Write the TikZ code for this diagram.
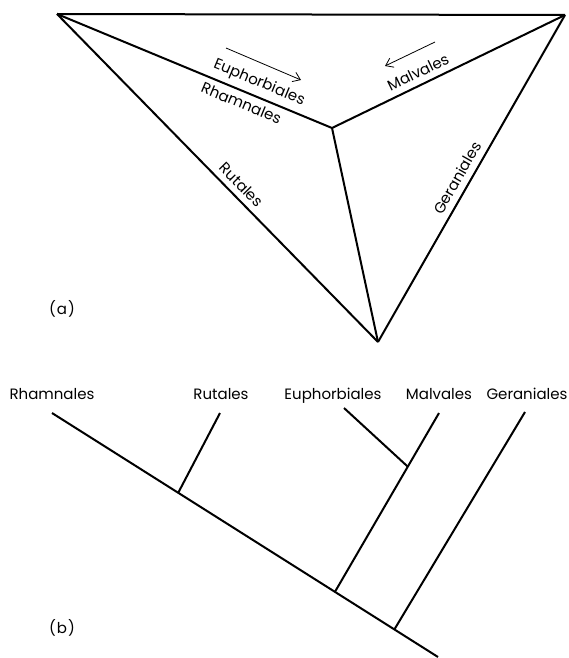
\documentclass[tikz,border=0pt]{standalone}
\usepackage{fontspec}
\setmainfont{Poppins}
\usetikzlibrary{positioning, calc, arrows.meta}

\tikzset{
  edge/.style={line width=2pt},
  hint/.style={line width=0.8pt, -{Straight Barb[length=7pt,width=10pt]}},
  taxon/.style={font=\fontsize{15}{18}\selectfont, inner sep=2pt},
  panel/.style={font=\fontsize{15}{18}\selectfont},
}

\begin{document}
\begin{tikzpicture}[x=1pt, y=-1pt]
  \useasboundingbox (0,0) rectangle (568,658);

  % Corners of the triangle (a)
  \coordinate (L) at (57,14);
  \coordinate (R) at (565,15);
  \coordinate (B) at (378,342);
  \coordinate (C) at (332,128);

  % Outer edges
  \draw[edge] (L) -- (R);
  \draw[edge] (L) -- (B) node[taxon, pos=0.547, above=4pt, sloped] (rutA) {Rutales};
  \draw[edge] (B) -- (R) node[taxon, pos=0.483, above=4pt, sloped] (gerA) {Geraniales};

  % Inner edges to the centre
  \draw[edge] (L) -- (C)
        node[taxon, pos=0.716, above=3pt, sloped] (eupA) {Euphorbiales}
        node[taxon, pos=0.687, below=3pt, sloped] (rhaA) {Rhamnales};
  \draw[edge] (C) -- (R) node[taxon, pos=0.393, above=4pt, sloped] (malA) {Malvales};
  \draw[edge] (C) -- (B);

  % Arrows along the edges
  \coordinate (ea1) at (226,48);
  \coordinate (ea2) at (301,80);
  \coordinate (ma1) at (435,42);
  \coordinate (ma2) at (385,66);
  \draw[hint] (ea1) -- (ea2);
  \draw[hint] (ma1) -- (ma2);

  \node[panel] (pa) at (62,309) {(\kern1pt a\kern1pt)};

  % Tree (b)
  \coordinate (rtop) at (52,413);
  \coordinate (root) at (438,657);
  \coordinate (jrut) at ($(rtop)!0.327!(root)$);
  \coordinate (jmal) at ($(rtop)!0.733!(root)$);
  \coordinate (jger) at ($(rtop)!0.887!(root)$);
  \coordinate (rut) at (220,413);
  \coordinate (mal) at (439,413);
  \coordinate (ger) at (525,412);
  \coordinate (eup) at (344,408);
  \coordinate (jeup) at ($(jmal)!0.70!(mal)$);

  \draw[edge] (rtop) -- (root);
  \draw[edge] (jrut) -- (rut);
  \draw[edge] (jmal) -- (mal);
  \draw[edge] (jeup) -- (eup);
  \draw[edge] (jger) -- (ger);

  % Tip labels
  \node[taxon, anchor=base] (rhaB) at (52,399) {Rhamnales};
  \node[taxon, anchor=base] (rutB) at (221,399) {Rutales};
  \node[taxon, anchor=base] (eupB) at (333,399) {Euphorbiales};
  \node[taxon, anchor=base] (malB) at (439,399) {Malvales};
  \node[taxon, anchor=base] (gerB) at (527,399) {Geraniales};

  \node[panel] (pb) at (62,628) {(\kern1pt b\kern1pt)};
\end{tikzpicture}
\end{document}
